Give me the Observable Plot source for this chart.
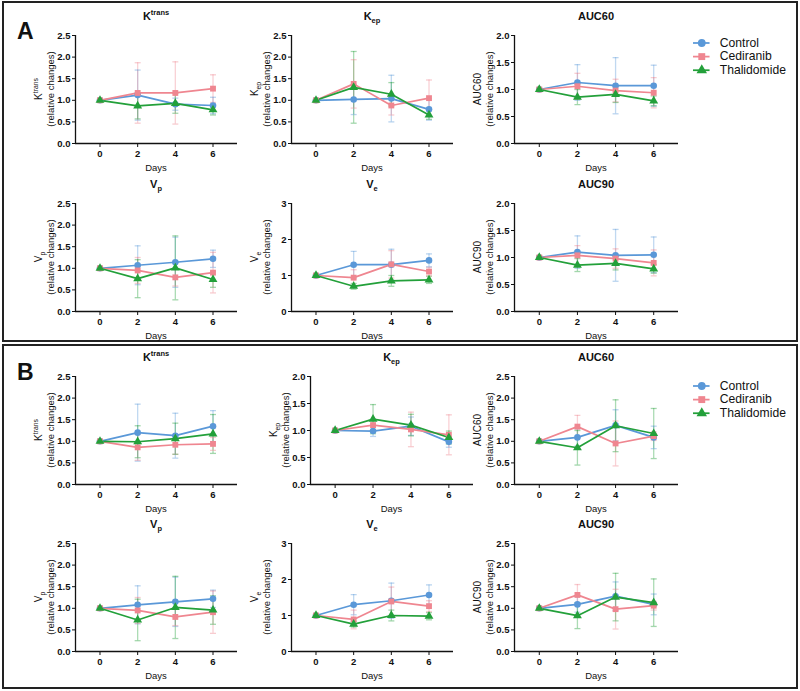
<!DOCTYPE html>
<html><head><meta charset="utf-8">
<script src="https://cdn.jsdelivr.net/npm/d3@7"></script>
<script src="https://cdn.jsdelivr.net/npm/@observablehq/plot@0.6"></script>
<style>
body{margin:0;background:#fff;font-family:"Liberation Sans",Arial,sans-serif;}
#root{position:relative;width:800px;height:691px;overflow:hidden;background:#fff;}
.box{position:absolute;border:2px solid #222;box-sizing:border-box;}
.panel{position:absolute;}
.panel svg{overflow:visible;}
.big{position:absolute;font-weight:bold;font-size:23px;line-height:23px;color:#111;}
</style></head><body><div id="root"></div>
<script>
const days = [0, 2, 4, 6];
const seriesNames = ["Control", "Cediranib", "Thalidomide"];
const seriesColors = ["#5a98d8", "#ef8690", "#23a03a"];
const seriesSymbols = ["circle", "square", "triangle"];
const xDomain = [-1.3, 7.3];
const ticks25 = [0, 0.5, 1, 1.5, 2, 2.5];
const ticks20 = [0, 0.5, 1, 1.5, 2];
const ticks3 = [0, 1, 2, 3];

// ---- Section A ----
const A_Ktrans_ctrl = [1, 1.12, 0.91, 0.88], A_Ktrans_ctrl_sd = [0, 0.58, 0.14, 0.19];
const A_Ktrans_ced  = [1, 1.17, 1.17, 1.27], A_Ktrans_ced_sd  = [0, 0.70, 0.72, 0.32];
const A_Ktrans_thal = [1, 0.87, 0.93, 0.78], A_Ktrans_thal_sd = [0, 0.30, 0.23, 0.12];

const A_Kep_ctrl = [1, 1.02, 1.04, 0.79], A_Kep_ctrl_sd = [0, 0.35, 0.54, 0.25];
const A_Kep_ced  = [1, 1.38, 0.88, 1.05], A_Kep_ced_sd  = [0, 0.56, 0.22, 0.42];
const A_Kep_thal = [1, 1.30, 1.14, 0.66], A_Kep_thal_sd = [0, 0.83, 0.27, 0.10];

const A_AUC60_ctrl = [1, 1.13, 1.07, 1.07], A_AUC60_ctrl_sd = [0, 0.33, 0.52, 0.38];
const A_AUC60_ced  = [1, 1.06, 0.98, 0.94], A_AUC60_ced_sd  = [0, 0.24, 0.21, 0.28];
const A_AUC60_thal = [1, 0.86, 0.91, 0.79], A_AUC60_thal_sd = [0, 0.14, 0.15, 0.09];

const A_Vp_ctrl = [1, 1.07, 1.14, 1.22], A_Vp_ctrl_sd = [0, 0.45, 0.58, 0.20];
const A_Vp_ced  = [1, 0.95, 0.79, 0.90], A_Vp_ced_sd  = [0, 0.30, 0.20, 0.47];
const A_Vp_thal = [1, 0.76, 1.01, 0.74], A_Vp_thal_sd = [0, 0.44, 0.74, 0.18];

const A_Ve_ctrl = [1, 1.30, 1.30, 1.42], A_Ve_ctrl_sd = [0, 0.37, 0.43, 0.18];
const A_Ve_ced  = [1, 0.94, 1.31, 1.11], A_Ve_ced_sd  = [0, 0.22, 0.38, 0.12];
const A_Ve_thal = [1, 0.70, 0.85, 0.88], A_Ve_thal_sd = [0, 0.08, 0.15, 0.10];

const A_AUC90_ctrl = [1, 1.10, 1.04, 1.05], A_AUC90_ctrl_sd = [0, 0.30, 0.48, 0.33];
const A_AUC90_ced  = [1, 1.04, 0.98, 0.90], A_AUC90_ced_sd  = [0, 0.18, 0.18, 0.24];
const A_AUC90_thal = [1, 0.86, 0.89, 0.79], A_AUC90_thal_sd = [0, 0.12, 0.12, 0.08];

// ---- Section B ----
const B_Ktrans_ctrl = [1, 1.20, 1.13, 1.35], B_Ktrans_ctrl_sd = [0, 0.66, 0.52, 0.36];
const B_Ktrans_ced  = [1, 0.86, 0.92, 0.94], B_Ktrans_ced_sd  = [0, 0.30, 0.22, 0.15];
const B_Ktrans_thal = [1, 0.99, 1.06, 1.17], B_Ktrans_thal_sd = [0, 0.37, 0.36, 0.45];

const B_Kep_ctrl = [1, 0.99, 1.08, 0.79], B_Kep_ctrl_sd = [0, 0.10, 0.17, 0.10];
const B_Kep_ced  = [1, 1.10, 1.02, 0.92], B_Kep_ced_sd  = [0, 0.10, 0.32, 0.37];
const B_Kep_thal = [1, 1.21, 1.10, 0.87], B_Kep_thal_sd = [0, 0.27, 0.20, 0.12];

const B_AUC60_ctrl = [1, 1.09, 1.37, 1.09], B_AUC60_ctrl_sd = [0, 0.20, 0.36, 0.26];
const B_AUC60_ced  = [1, 1.34, 0.95, 1.12], B_AUC60_ced_sd  = [0, 0.26, 0.52, 0.10];
const B_AUC60_thal = [1, 0.85, 1.36, 1.18], B_AUC60_thal_sd = [0, 0.40, 0.60, 0.58];

const B_Vp_ctrl = [1, 1.08, 1.15, 1.22], B_Vp_ctrl_sd = [0, 0.44, 0.57, 0.20];
const B_Vp_ced  = [1, 0.95, 0.80, 0.91], B_Vp_ced_sd  = [0, 0.30, 0.20, 0.49];
const B_Vp_thal = [1, 0.73, 1.02, 0.96], B_Vp_thal_sd = [0, 0.48, 0.72, 0.33];

const B_Ve_ctrl = [1, 1.30, 1.41, 1.57], B_Ve_ctrl_sd = [0, 0.28, 0.49, 0.28];
const B_Ve_ced  = [1, 0.89, 1.39, 1.26], B_Ve_ced_sd  = [0, 0.26, 0.40, 0.15];
const B_Ve_thal = [1, 0.76, 1.00, 0.98], B_Ve_thal_sd = [0, 0.08, 0.15, 0.10];

const B_AUC90_ctrl = [1, 1.09, 1.28, 1.09], B_AUC90_ctrl_sd = [0, 0.18, 0.33, 0.24];
const B_AUC90_ced  = [1, 1.31, 0.98, 1.06], B_AUC90_ced_sd  = [0, 0.24, 0.46, 0.10];
const B_AUC90_thal = [1, 0.83, 1.26, 1.13], B_AUC90_thal_sd = [0, 0.30, 0.55, 0.55];

// labels
const L_Ktrans = [["K", ""], ["trans", "sup"]];
const L_Kep = [["K", ""], ["ep", "sub"]];
const L_Vp = [["V", ""], ["p", "sub"]];
const L_Ve = [["V", ""], ["e", "sub"]];
const L_AUC60 = [["AUC60", ""]];
const L_AUC90 = [["AUC90", ""]];

const panels = [
  {x0: 75, top: 35, w: 162, dom: [0, 2.5], ticks: ticks25, fmt: ".1f", lab: L_Ktrans,
   means: [A_Ktrans_ctrl, A_Ktrans_ced, A_Ktrans_thal], sds: [A_Ktrans_ctrl_sd, A_Ktrans_ced_sd, A_Ktrans_thal_sd]},
  {x0: 291, top: 35, w: 162, dom: [0, 2.5], ticks: ticks25, fmt: ".1f", lab: L_Kep,
   means: [A_Kep_ctrl, A_Kep_ced, A_Kep_thal], sds: [A_Kep_ctrl_sd, A_Kep_ced_sd, A_Kep_thal_sd]},
  {x0: 514, top: 35, w: 164, dom: [0, 2], ticks: ticks20, fmt: ".1f", lab: L_AUC60,
   means: [A_AUC60_ctrl, A_AUC60_ced, A_AUC60_thal], sds: [A_AUC60_ctrl_sd, A_AUC60_ced_sd, A_AUC60_thal_sd]},
  {x0: 75, top: 203, w: 162, dom: [0, 2.5], ticks: ticks25, fmt: ".1f", lab: L_Vp,
   means: [A_Vp_ctrl, A_Vp_ced, A_Vp_thal], sds: [A_Vp_ctrl_sd, A_Vp_ced_sd, A_Vp_thal_sd]},
  {x0: 291, top: 203, w: 162, dom: [0, 3], ticks: ticks3, fmt: "d", lab: L_Ve,
   means: [A_Ve_ctrl, A_Ve_ced, A_Ve_thal], sds: [A_Ve_ctrl_sd, A_Ve_ced_sd, A_Ve_thal_sd]},
  {x0: 514, top: 203, w: 164, dom: [0, 2], ticks: ticks20, fmt: ".1f", lab: L_AUC90,
   means: [A_AUC90_ctrl, A_AUC90_ced, A_AUC90_thal], sds: [A_AUC90_ctrl_sd, A_AUC90_ced_sd, A_AUC90_thal_sd]},
  {x0: 75, top: 376, w: 162, dom: [0, 2.5], ticks: ticks25, fmt: ".1f", lab: L_Ktrans,
   means: [B_Ktrans_ctrl, B_Ktrans_ced, B_Ktrans_thal], sds: [B_Ktrans_ctrl_sd, B_Ktrans_ced_sd, B_Ktrans_thal_sd]},
  {x0: 310, top: 376, w: 163, dom: [0, 2], ticks: ticks20, fmt: ".1f", lab: L_Kep,
   means: [B_Kep_ctrl, B_Kep_ced, B_Kep_thal], sds: [B_Kep_ctrl_sd, B_Kep_ced_sd, B_Kep_thal_sd]},
  {x0: 514, top: 376, w: 164, dom: [0, 2.5], ticks: ticks25, fmt: ".1f", lab: L_AUC60,
   means: [B_AUC60_ctrl, B_AUC60_ced, B_AUC60_thal], sds: [B_AUC60_ctrl_sd, B_AUC60_ced_sd, B_AUC60_thal_sd]},
  {x0: 75, top: 543, w: 162, dom: [0, 2.5], ticks: ticks25, fmt: ".1f", lab: L_Vp,
   means: [B_Vp_ctrl, B_Vp_ced, B_Vp_thal], sds: [B_Vp_ctrl_sd, B_Vp_ced_sd, B_Vp_thal_sd]},
  {x0: 291, top: 543, w: 162, dom: [0, 3], ticks: ticks3, fmt: "d", lab: L_Ve,
   means: [B_Ve_ctrl, B_Ve_ced, B_Ve_thal], sds: [B_Ve_ctrl_sd, B_Ve_ced_sd, B_Ve_thal_sd]},
  {x0: 514, top: 543, w: 164, dom: [0, 2.5], ticks: ticks25, fmt: ".1f", lab: L_AUC90,
   means: [B_AUC90_ctrl, B_AUC90_ced, B_AUC90_thal], sds: [B_AUC90_ctrl_sd, B_AUC90_ced_sd, B_AUC90_thal_sd]}
];

const ML = 60, MR = 8, MT = 30, MB = 40, PH = 108;
const FONT = "'Liberation Sans', Arial, Helvetica, sans-serif";
const root = document.getElementById("root");

function addRich(sel, parts, size) {
  parts.forEach(([t, kind]) => {
    const ts = sel.append("tspan").text(t);
    if (kind === "sup") ts.attr("font-size", size * 0.68).attr("dy", -size * 0.42);
    if (kind === "sub") ts.attr("font-size", size * 0.68).attr("dy", size * 0.28);
  });
}

const capSymbol = {draw(ctx, size) { const r = Math.sqrt(size / Math.PI); ctx.moveTo(-r, 0); ctx.lineTo(r, 0); }};

function makePanel(p) {
  const rows = [];
  seriesNames.forEach((s, i) => days.forEach((d, j) => rows.push({series: s, day: d, mean: p.means[i][j], sd: p.sds[i][j]})));
  const err = rows.filter(d => d.sd > 0);
  const chart = Plot.plot({
    width: ML + p.w + MR, height: MT + PH + MB,
    marginLeft: ML, marginRight: MR, marginTop: MT, marginBottom: MB,
    style: {background: "transparent", fontFamily: FONT, fontSize: "9.5px", fontWeight: "bold", color: "#111", overflow: "visible"},
    x: {domain: xDomain, ticks: days, tickFormat: "d", tickSize: 4, tickPadding: 3, label: null},
    y: {domain: p.dom, ticks: p.ticks, tickFormat: p.fmt, tickSize: 3, tickPadding: 2, label: null},
    color: {domain: seriesNames, range: seriesColors},
    symbol: {domain: seriesNames, range: seriesSymbols},
    marks: [
      Plot.ruleX(err, {x: "day", y1: d => d.mean - d.sd, y2: d => d.mean + d.sd, stroke: "series", strokeOpacity: 0.38, strokeWidth: 1.3}),
      Plot.dot(err, {x: "day", y: d => d.mean + d.sd, symbol: capSymbol, r: 3, fill: "none", stroke: "series", strokeOpacity: 0.42, strokeWidth: 1.3}),
      Plot.dot(err, {x: "day", y: d => d.mean - d.sd, symbol: capSymbol, r: 3, fill: "none", stroke: "series", strokeOpacity: 0.42, strokeWidth: 1.3}),
      Plot.line(rows, {x: "day", y: "mean", z: "series", stroke: "series", strokeWidth: 1.7}),
      Plot.dot(rows, {x: "day", y: "mean", symbol: "series", fill: "series", r: 3.3}),
      Plot.ruleY([p.dom[0]], {stroke: "#111", strokeWidth: 1.3}),
      Plot.ruleX([xDomain[0]], {stroke: "#111", strokeWidth: 1.3})
    ]
  });
  const svg = d3.select(chart);
  // title
  const t = svg.append("text").attr("x", ML + p.w / 2).attr("y", MT - 15)
    .attr("text-anchor", "middle").attr("font-size", 11).attr("font-weight", "bold").attr("fill", "#111");
  addRich(t, p.lab, 11);
  // y label (two lines, rotated)
  const g = svg.append("g").attr("transform", `translate(${ML - 33},${MT + PH / 2}) rotate(-90)`);
  const l1 = g.append("text").attr("text-anchor", "middle").attr("font-size", 10).attr("font-weight", "normal").attr("fill", "#111");
  addRich(l1, p.lab, 10);
  g.append("text").attr("y", 12).attr("text-anchor", "middle").attr("font-size", 9.5).attr("font-weight", "normal").attr("fill", "#111").text("(relative changes)");
  // x label
  svg.append("text").attr("x", ML + p.w / 2).attr("y", MT + PH + 28).attr("text-anchor", "middle")
    .attr("font-size", 9.5).attr("font-weight", "normal").attr("fill", "#111").text("Days");
  const div = document.createElement("div");
  div.className = "panel";
  div.style.left = (p.x0 - ML) + "px";
  div.style.top = (p.top - MT) + "px";
  div.appendChild(chart);
  root.appendChild(div);
}

function makeLegend(left, top) {
  const lg = Plot.plot({
    width: 110, height: 66, marginLeft: 0, marginRight: 0, marginTop: 0, marginBottom: 0,
    style: {background: "transparent", fontFamily: FONT, fontSize: "12.5px", color: "#111", overflow: "visible"},
    x: {domain: [0, 110], range: [0, 110], axis: null},
    y: {type: "point", domain: seriesNames, range: [10, 54], axis: null},
    color: {domain: seriesNames, range: seriesColors},
    symbol: {domain: seriesNames, range: seriesSymbols},
    marks: [
      Plot.ruleY(seriesNames, {y: d => d, x1: () => 0, x2: () => 17, stroke: d => d, strokeWidth: 1.8}),
      Plot.dot(seriesNames, {x: () => 8.5, y: d => d, symbol: d => d, fill: d => d, r: 4}),
      Plot.text(seriesNames, {x: () => 27, y: d => d, text: d => d, textAnchor: "start", fill: "#111", fontSize: 12.5})
    ]
  });
  const div = document.createElement("div");
  div.className = "panel";
  div.style.left = left + "px";
  div.style.top = top + "px";
  div.appendChild(lg);
  root.appendChild(div);
}

function addBox(l, t, w, h) {
  const d = document.createElement("div");
  d.className = "box";
  Object.assign(d.style, {left: l + "px", top: t + "px", width: w + "px", height: h + "px"});
  root.appendChild(d);
}
function addBig(txt, l, t) {
  const d = document.createElement("div");
  d.className = "big";
  d.textContent = txt;
  Object.assign(d.style, {left: l + "px", top: t + "px"});
  root.appendChild(d);
}

addBox(2, 1, 796, 341);
addBox(2, 344, 796, 345);
addBig("A", 17, 20);
addBig("B", 17, 361);
panels.forEach(makePanel);
makeLegend(693, 25);
makeLegend(693, 368);
</script></body></html>
